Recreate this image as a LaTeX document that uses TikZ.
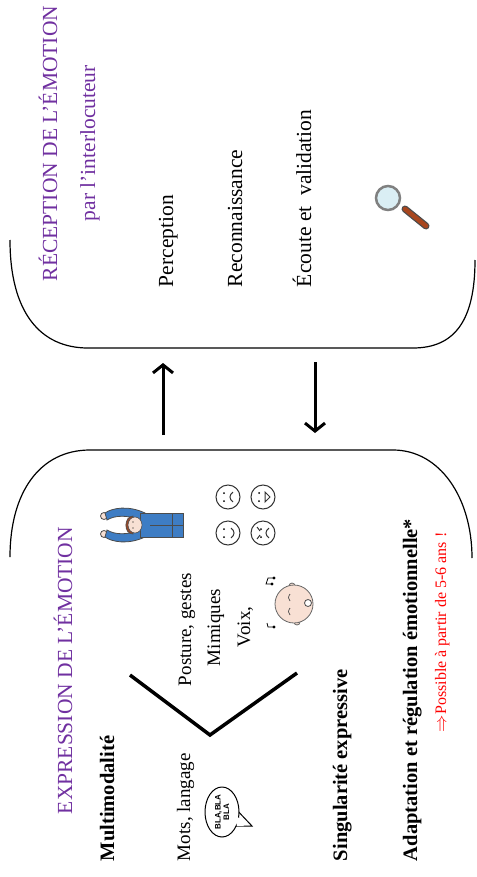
\documentclass[tikz,border=0pt]{standalone}
\usepackage{fontspec}
\setmainfont{Liberation Serif}
\newfontfamily\bubblefont{Liberation Sans}
\usepackage{xcolor}
\usepackage{tikz}
\usetikzlibrary{positioning,arrows.meta}

\definecolor{titlepurple}{RGB}{112,48,160}
\definecolor{shirtblue}{RGB}{62,125,196}
\definecolor{skin}{RGB}{248,224,212}
\definecolor{hairbrown}{RGB}{150,72,40}
\definecolor{lensblue}{RGB}{218,238,244}
\definecolor{handlebrown}{RGB}{168,70,30}

\tikzset{
  vtext/.style={rotate=90,anchor=base west,inner sep=0.75pt,font=\fontsize{19}{22}\selectfont},
  vlarge/.style={vtext,font=\fontsize{21.5}{25}\selectfont},
  vhead/.style={vtext,font=\fontsize{20.5}{24}\selectfont\bfseries},
  vtitle/.style={vtext,text=titlepurple,font=\fontsize{21.5}{25}\selectfont},
  vnote/.style={vtext,text=red,font=\fontsize{16}{19}\selectfont},
  frame/.style={line width=1.2pt},
  flow/.style={line width=3pt,-{Straight Barb[length=8pt,width=20pt]}},
  smiley/.style={line width=1pt,draw=black!80},
}

\begin{document}
\begin{tikzpicture}[x=1pt,y=1pt,yscale=-1,xscale=1]
\useasboundingbox (0,0) rectangle (476,877);

% Reception frame (open at the top)
\draw [frame] (10,240) .. controls (10,312) and (40,348) .. (88,348) -- (413,348) .. controls (455,348) and (475,320) .. (475,260);
% Expression frame (open at the bottom)
\draw [frame] (10,557) .. controls (10,492) and (40,450) .. (90,450) -- (393,450) .. controls (440,450) and (472,498) .. (472,558);

% Text Node
\draw (57,282) node (recTitle) [vtitle] {RÉCEPTION DE L’ÉMOTION};
% Text Node
\draw (95,222) node (recSub) [vtitle] {par l’interlocuteur};
% Text Node
\draw (173,288) node (perception) [vlarge] {Perception};
% Text Node
\draw (242,288) node (reconnaissance) [vlarge] {Reconnaissance};
% Text Node
\draw (311,288) node (ecoute) [vlarge] {Écoute et \ validation};

% Magnifier
\draw [black!70,line width=7pt,line cap=round] (405,209) -- (426,226);
\draw [handlebrown,line width=4.5pt,line cap=round] (405,209) -- (426,226);
\draw [fill=lensblue,draw=gray,line width=2.5pt] (388,198) circle (12);

% Connection
\coordinate (upFrom) at (163,435);
\coordinate (upTo) at (163,363);
\coordinate (downFrom) at (315,362);
\coordinate (downTo) at (315,433);
\draw [flow] (upFrom) -- (upTo);
\draw [flow] (downFrom) -- (downTo);

% Text Node
\draw (72,815) node (expTitle) [vtitle] {EXPRESSION DE L’ÉMOTION};
% Text Node
\draw (114,862) node (multi) [vhead] {Multimodalité};
% Text Node
\draw (190,862) node (mots) [vtext] {Mots, langage};
% Text Node
\draw (191,687) node (posture) [vtext] {Posture, gestes};
% Text Node
\draw (220,667) node (mimiques) [vtext] {Mimiques};
% Text Node
\draw (250,648) node (voix) [vtext] {Voix,};
% Text Node
\draw (347,862) node (singularite) [vhead] {Singularité expressive};
% Text Node
\draw (417,862) node (adaptation) [vhead] {Adaptation et régulation émotionnelle*};
% Text Node
\draw (446,733) node (possible) [vnote] {$\Rightarrow$Possible à partir de 5-6 ans !};

% Branching V
\draw [line width=3.5pt] (130,675) -- (210,735) -- (297,673);

% Speech bubble
\draw [line width=1pt,fill=white] (236,826) -- (252,826) -- (233,806);
\draw [line width=1pt,fill=white] (222,812) ellipse (17 and 25);
\fill [white] (232,808) -- (237,826) -- (244,826) -- cycle;
\draw (222,812) node (bla) [rotate=90,align=center,inner sep=0pt,font=\bubblefont\bfseries\fontsize{8}{8.5}\selectfont] {BLA,BLA\\BLA};

% Person with raised arms
\draw [line width=0.8pt,fill=skin,draw=black!70] (104,516) circle (3.5);
\draw [line width=0.8pt,fill=skin,draw=black!70] (104,534) circle (3.5);
\draw [line width=0.8pt,fill=shirtblue,draw=black!70] (145,513) .. controls (128,505) and (112,508) .. (105,513) -- (107,520) .. controls (115,515) and (128,515) .. (140,520) -- cycle;
\draw [line width=0.8pt,fill=shirtblue,draw=black!70] (145,537) .. controls (128,545) and (112,542) .. (105,537) -- (107,530) .. controls (115,535) and (128,535) .. (140,530) -- cycle;
\draw [line width=0.8pt,fill=shirtblue,draw=black!70] (140,513) -- (183,513) -- (183,537) -- (140,537) -- cycle;
\draw [line width=0.6pt,draw=black!70] (150,525) -- (183,525);
\draw [line width=0.6pt,draw=black!70] (172,513) -- (172,537);
\draw [line width=0.6pt,fill=hairbrown,draw=black!70] (133,516) .. controls (124,516) and (123,534) .. (133,534) -- cycle;
\draw [line width=0.6pt,fill=skin,draw=black!70] (135,525) ellipse (7 and 8);
\fill [black] (133,522) circle (0.7) (133,528) circle (0.7);

% Emotion faces
\draw [smiley] (228,497) circle (12);
\fill (224,493) circle (1) (224,501) circle (1);
\draw [smiley] (233,492) .. controls (229,495) and (229,499) .. (233,502);
\draw [smiley] (263,497) circle (12);
\fill (259,493) circle (1) (259,501) circle (1);
\draw [smiley] (265,492) -- (270,497) -- (265,502) -- cycle;
\draw [smiley] (228,533) circle (12);
\fill (224,529) circle (1) (224,537) circle (1);
\draw [smiley] (231,528) .. controls (235,531) and (235,535) .. (231,538);
\draw [smiley] (263,533) circle (12);
\draw [smiley] (257,527) -- (260,531) (257,539) -- (260,535);
\fill (261,529) circle (1) (261,537) circle (1);
\draw [smiley] (269,528) .. controls (265,531) and (265,535) .. (269,538);

% Singing baby
\draw [line width=0.8pt,fill=skin,draw=black!60] (292,586) circle (3);
\draw [line width=0.8pt,fill=skin,draw=black!60] (297,622) circle (3);
\draw [line width=0.8pt,fill=skin,draw=black!60] (294,604) circle (19);
\draw [line width=0.7pt,draw=black!70] (290,594) .. controls (288,597) and (288,599) .. (290,601);
\draw [line width=0.7pt,draw=black!70] (290,608) .. controls (288,611) and (288,613) .. (290,615);
\draw [line width=0.8pt,fill=white,draw=black!70] (308,603) circle (3.5);
% music notes
\fill (272,584) circle (1.6) (274,578) circle (1.6);
\draw [line width=0.8pt] (272,584) -- (266,584) -- (268,578) -- (274,578);
\fill (274,627) circle (1.6);
\draw [line width=0.8pt] (274,627) -- (268,627) -- (267,623);
\end{tikzpicture}
\end{document}
